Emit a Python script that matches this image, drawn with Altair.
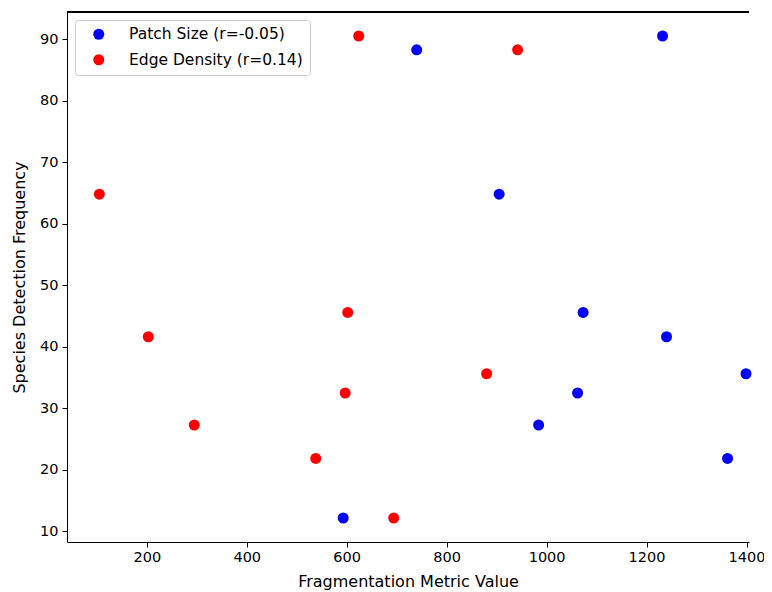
import altair as alt
import pandas as pd

# Shared y values (species detection frequency)
detection = [88.26, 90.5, 64.8, 45.58, 41.63, 35.62, 32.49, 27.29, 21.86, 12.18]
# x values for each metric
patch_size = [740, 1232, 905, 1073, 1240, 1399, 1062, 984, 1362, 593]
edge_density = [942, 624, 105, 602, 203, 880, 597, 295, 538, 694]

series_names = ["Patch Size (r=-0.05)", "Edge Density (r=0.14)"]
series_colors = ["blue", "red"]
x_ticks = [200, 400, 600, 800, 1000, 1200, 1400]
y_ticks = [10, 20, 30, 40, 50, 60, 70, 80, 90]

rows = []
for xv, yv in zip(patch_size, detection):
    rows.append({"metric": xv, "freq": yv, "series": series_names[0]})
for xv, yv in zip(edge_density, detection):
    rows.append({"metric": xv, "freq": yv, "series": series_names[1]})
df = pd.DataFrame(rows)

W, H = 682, 530
FONT = "DejaVu Sans"

axis_style = dict(
    grid=False, tickSize=5, domainColor="black", tickColor="black",
    labelColor="black", titleColor="black", labelFont=FONT, titleFont=FONT,
    labelFontSize=14.5, titleFontSize=16, titleFontWeight="normal",
    domainWidth=1, tickWidth=1,
)

points = alt.Chart(df).mark_circle(size=121, opacity=1).encode(
    x=alt.X(
        "metric:Q",
        title="Fragmentation Metric Value",
        scale=alt.Scale(domain=[40.3, 1405], nice=False, zero=False),
        axis=alt.Axis(values=x_ticks, labelPadding=3, titlePadding=10,
                      format="d", **axis_style),
    ),
    y=alt.Y(
        "freq:Q",
        title="Species Detection Frequency",
        scale=alt.Scale(domain=[8.28, 94.4], nice=False, zero=False),
        axis=alt.Axis(values=y_ticks, labelPadding=4, titlePadding=12,
                      **axis_style),
    ),
    color=alt.Color(
        "series:N",
        scale=alt.Scale(domain=series_names, range=series_colors),
        sort=series_names,
        legend=alt.Legend(
            title=None, orient="none", legendX=8, legendY=8,
            padding=6.5, strokeColor="#cccccc", fillColor="white",
            cornerRadius=3, symbolType="circle", symbolSize=121,
            symbolOffset=9.5, labelOffset=22.5, labelFontSize=15.5,
            labelFont=FONT, labelColor="black", rowPadding=8.5,
            labelLimit=400, symbolStrokeWidth=0,
        ),
    ),
)

top_rule = alt.Chart(df).mark_rule(color="black", strokeWidth=1).encode(
    x=alt.value(0), x2=alt.value(W), y=alt.value(0)
)

chart = alt.layer(top_rule, points).properties(
    width=W, height=H,
    background="white",
    autosize=alt.AutoSizeParams(type="none"),
    padding={"left": 59, "top": 4, "right": 15, "bottom": 50},
).configure_view(stroke=None)

chart.save("out.html", embed_options={"renderer": "svg", "actions": False})
